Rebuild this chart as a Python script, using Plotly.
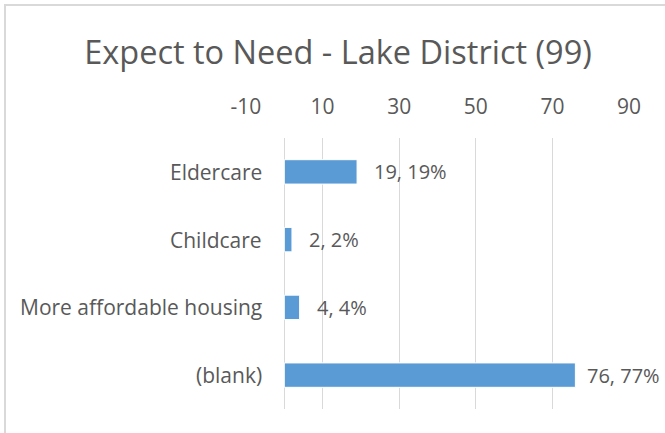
import plotly.graph_objects as go

# Survey responses: "Expect to Need" for Lake District (99 respondents)
categories = ["Eldercare", "Childcare", "More affordable housing", "(blank)"]
counts = [19, 2, 4, 76]
percents = [19, 2, 4, 77]
x_ticks = [-10, 10, 30, 50, 70, 90]

W, H = 665, 433
L, R, T, B = 246, 36, 138, 24
X_MIN, X_MAX = -10, 90
FONT = "Open Sans"
GRAY = "#595959"
GRID = "#d9d9d9"
BAR = "#5b9bd5"
LABEL_SIZE = 21
VALUE_SIZE = 20

labels = [f"{c}, {p}%" for c, p in zip(counts, percents)]

fig = go.Figure()
fig.add_trace(go.Bar(
    x=counts,
    y=categories,
    orientation="h",
    marker=dict(color=BAR, line=dict(color="#ffffff", width=1)),
    width=0.36,
    hoverinfo="skip",
))

# Value labels, offset from the end of each bar; pulled in if they would
# run past the right edge of the figure
scale = (W - L - R) / (X_MAX - X_MIN)
for cat, c, lab in zip(categories, counts, labels):
    end_px = L + (c - X_MIN) * scale
    est_w = len(lab) * 0.54 * VALUE_SIZE
    shift = max(4, min(15, W - 4 - end_px - est_w))
    fig.add_annotation(
        x=c, y=cat, xref="x", yref="y",
        text=lab, showarrow=False,
        xanchor="left", xshift=shift,
        font=dict(family=FONT, size=VALUE_SIZE, color=GRAY),
    )

# Category names sit against the zero line, not the plot edge
for cat in categories:
    fig.add_annotation(
        x=0, y=cat, xref="x", yref="y",
        text=cat, showarrow=False,
        xanchor="right", xshift=-20,
        font=dict(family=FONT, size=LABEL_SIZE, color=GRAY),
    )

px = lambda v: (v - L) / (W - L - R)
py = lambda v: (H - B - v) / (H - T - B)
fig.add_shape(
    type="rect", xref="paper", yref="paper",
    x0=px(5), x1=px(700), y0=py(5), y1=py(470),
    line=dict(color=GRID, width=2), fillcolor="rgba(0,0,0,0)", layer="below",
)

fig.update_layout(
    width=W, height=H,
    margin=dict(l=L, r=R, t=T, b=B),
    paper_bgcolor="white",
    plot_bgcolor="white",
    showlegend=False,
    title=dict(
        text="Expect to Need - Lake District (99)",
        x=338 / W, xanchor="center",
        y=1 - 53 / H, yanchor="middle",
        font=dict(family=FONT, size=32.5, color=GRAY),
    ),
    xaxis=dict(
        side="top",
        range=[X_MIN, X_MAX],
        tickvals=x_ticks,
        ticktext=[str(v) for v in x_ticks],
        showgrid=True, gridcolor=GRID, gridwidth=1.3,
        zeroline=True, zerolinecolor=GRID, zerolinewidth=1.3,
        showline=False,
        ticks="outside", ticklen=15, tickcolor="rgba(0,0,0,0)",
        tickfont=dict(family=FONT, size=LABEL_SIZE, color=GRAY),
        fixedrange=True,
    ),
    yaxis=dict(
        categoryorder="array",
        categoryarray=categories[::-1],
        showticklabels=False,
        showgrid=False, zeroline=False, showline=False,
        fixedrange=True,
    ),
)

fig.write_html("out.html")
